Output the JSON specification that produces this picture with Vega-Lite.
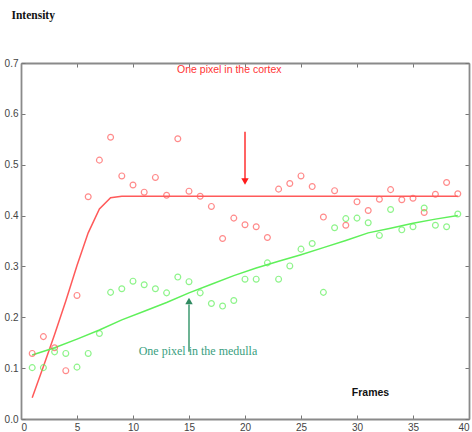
{
  "$schema": "https://vega.github.io/schema/vega-lite/v6.json",
  "width": 448,
  "height": 356,
  "autosize": {"type": "none"},
  "padding": {"left": 21, "top": 63, "right": 3, "bottom": 13},
  "background": "white",
  "config": {
    "view": {"stroke": null},
    "axis": {
      "grid": false,
      "domainColor": "#8a8a8a",
      "domainWidth": 1.8,
      "tickColor": "#777777",
      "tickSize": -4,
      "labelFont": "Liberation Sans",
      "labelFontSize": 10,
      "labelColor": "#444444"
    }
  },
  "datasets": {
    "points": [
      {"frame": 1, "intensity": 0.129, "region": "cortex"},
      {"frame": 2, "intensity": 0.162, "region": "cortex"},
      {"frame": 3, "intensity": 0.140, "region": "cortex"},
      {"frame": 4, "intensity": 0.095, "region": "cortex"},
      {"frame": 5, "intensity": 0.243, "region": "cortex"},
      {"frame": 6, "intensity": 0.437, "region": "cortex"},
      {"frame": 7, "intensity": 0.509, "region": "cortex"},
      {"frame": 8, "intensity": 0.554, "region": "cortex"},
      {"frame": 9, "intensity": 0.478, "region": "cortex"},
      {"frame": 10, "intensity": 0.460, "region": "cortex"},
      {"frame": 11, "intensity": 0.446, "region": "cortex"},
      {"frame": 12, "intensity": 0.475, "region": "cortex"},
      {"frame": 13, "intensity": 0.440, "region": "cortex"},
      {"frame": 14, "intensity": 0.551, "region": "cortex"},
      {"frame": 15, "intensity": 0.448, "region": "cortex"},
      {"frame": 16, "intensity": 0.438, "region": "cortex"},
      {"frame": 17, "intensity": 0.418, "region": "cortex"},
      {"frame": 18, "intensity": 0.355, "region": "cortex"},
      {"frame": 19, "intensity": 0.395, "region": "cortex"},
      {"frame": 20, "intensity": 0.382, "region": "cortex"},
      {"frame": 21, "intensity": 0.378, "region": "cortex"},
      {"frame": 22, "intensity": 0.357, "region": "cortex"},
      {"frame": 23, "intensity": 0.452, "region": "cortex"},
      {"frame": 24, "intensity": 0.463, "region": "cortex"},
      {"frame": 25, "intensity": 0.478, "region": "cortex"},
      {"frame": 26, "intensity": 0.457, "region": "cortex"},
      {"frame": 27, "intensity": 0.397, "region": "cortex"},
      {"frame": 28, "intensity": 0.449, "region": "cortex"},
      {"frame": 29, "intensity": 0.381, "region": "cortex"},
      {"frame": 30, "intensity": 0.427, "region": "cortex"},
      {"frame": 31, "intensity": 0.410, "region": "cortex"},
      {"frame": 32, "intensity": 0.432, "region": "cortex"},
      {"frame": 33, "intensity": 0.451, "region": "cortex"},
      {"frame": 34, "intensity": 0.431, "region": "cortex"},
      {"frame": 35, "intensity": 0.434, "region": "cortex"},
      {"frame": 36, "intensity": 0.406, "region": "cortex"},
      {"frame": 37, "intensity": 0.442, "region": "cortex"},
      {"frame": 38, "intensity": 0.465, "region": "cortex"},
      {"frame": 39, "intensity": 0.443, "region": "cortex"},
      {"frame": 1, "intensity": 0.101, "region": "medulla"},
      {"frame": 2, "intensity": 0.101, "region": "medulla"},
      {"frame": 3, "intensity": 0.132, "region": "medulla"},
      {"frame": 4, "intensity": 0.129, "region": "medulla"},
      {"frame": 5, "intensity": 0.102, "region": "medulla"},
      {"frame": 6, "intensity": 0.129, "region": "medulla"},
      {"frame": 7, "intensity": 0.168, "region": "medulla"},
      {"frame": 8, "intensity": 0.249, "region": "medulla"},
      {"frame": 9, "intensity": 0.256, "region": "medulla"},
      {"frame": 10, "intensity": 0.271, "region": "medulla"},
      {"frame": 11, "intensity": 0.264, "region": "medulla"},
      {"frame": 12, "intensity": 0.256, "region": "medulla"},
      {"frame": 13, "intensity": 0.248, "region": "medulla"},
      {"frame": 14, "intensity": 0.279, "region": "medulla"},
      {"frame": 15, "intensity": 0.270, "region": "medulla"},
      {"frame": 16, "intensity": 0.248, "region": "medulla"},
      {"frame": 17, "intensity": 0.227, "region": "medulla"},
      {"frame": 18, "intensity": 0.222, "region": "medulla"},
      {"frame": 19, "intensity": 0.233, "region": "medulla"},
      {"frame": 20, "intensity": 0.275, "region": "medulla"},
      {"frame": 21, "intensity": 0.275, "region": "medulla"},
      {"frame": 22, "intensity": 0.307, "region": "medulla"},
      {"frame": 23, "intensity": 0.275, "region": "medulla"},
      {"frame": 24, "intensity": 0.301, "region": "medulla"},
      {"frame": 25, "intensity": 0.334, "region": "medulla"},
      {"frame": 26, "intensity": 0.345, "region": "medulla"},
      {"frame": 27, "intensity": 0.249, "region": "medulla"},
      {"frame": 28, "intensity": 0.376, "region": "medulla"},
      {"frame": 29, "intensity": 0.394, "region": "medulla"},
      {"frame": 30, "intensity": 0.395, "region": "medulla"},
      {"frame": 31, "intensity": 0.386, "region": "medulla"},
      {"frame": 32, "intensity": 0.361, "region": "medulla"},
      {"frame": 33, "intensity": 0.412, "region": "medulla"},
      {"frame": 34, "intensity": 0.372, "region": "medulla"},
      {"frame": 35, "intensity": 0.378, "region": "medulla"},
      {"frame": 36, "intensity": 0.415, "region": "medulla"},
      {"frame": 37, "intensity": 0.381, "region": "medulla"},
      {"frame": 38, "intensity": 0.378, "region": "medulla"},
      {"frame": 39, "intensity": 0.403, "region": "medulla"}
    ],
    "fits": [
      {"frame": 1, "intensity": 0.042, "region": "cortex"},
      {"frame": 2, "intensity": 0.103, "region": "cortex"},
      {"frame": 3, "intensity": 0.166, "region": "cortex"},
      {"frame": 4, "intensity": 0.232, "region": "cortex"},
      {"frame": 5, "intensity": 0.302, "region": "cortex"},
      {"frame": 6, "intensity": 0.366, "region": "cortex"},
      {"frame": 7, "intensity": 0.413, "region": "cortex"},
      {"frame": 8, "intensity": 0.435, "region": "cortex"},
      {"frame": 9, "intensity": 0.438, "region": "cortex"},
      {"frame": 20, "intensity": 0.438, "region": "cortex"},
      {"frame": 39, "intensity": 0.438, "region": "cortex"},
      {"frame": 1, "intensity": 0.126, "region": "medulla"},
      {"frame": 3, "intensity": 0.140, "region": "medulla"},
      {"frame": 5, "intensity": 0.157, "region": "medulla"},
      {"frame": 7, "intensity": 0.175, "region": "medulla"},
      {"frame": 9, "intensity": 0.195, "region": "medulla"},
      {"frame": 11, "intensity": 0.212, "region": "medulla"},
      {"frame": 13, "intensity": 0.229, "region": "medulla"},
      {"frame": 15, "intensity": 0.248, "region": "medulla"},
      {"frame": 17, "intensity": 0.265, "region": "medulla"},
      {"frame": 19, "intensity": 0.282, "region": "medulla"},
      {"frame": 21, "intensity": 0.297, "region": "medulla"},
      {"frame": 23, "intensity": 0.310, "region": "medulla"},
      {"frame": 25, "intensity": 0.323, "region": "medulla"},
      {"frame": 27, "intensity": 0.337, "region": "medulla"},
      {"frame": 29, "intensity": 0.351, "region": "medulla"},
      {"frame": 31, "intensity": 0.366, "region": "medulla"},
      {"frame": 33, "intensity": 0.375, "region": "medulla"},
      {"frame": 35, "intensity": 0.385, "region": "medulla"},
      {"frame": 37, "intensity": 0.393, "region": "medulla"},
      {"frame": 39, "intensity": 0.400, "region": "medulla"}
    ]
  },
  "resolve": {"axis": {"x": "independent", "y": "independent"}},
  "layer": [
    {
      "data": {"name": "fits"},
      "mark": {"type": "line", "strokeWidth": 1.5},
      "encoding": {
        "x": {"field": "frame", "type": "quantitative", "scale": {"domain": [0, 40], "nice": false},
              "axis": {"values": [0, 5, 10, 15, 20, 25, 30, 35, 40], "labelPadding": 7, "title": "Frames",
                       "titleX": 349, "titleY": -27, "titleBaseline": "middle", "titleFont": "Liberation Sans",
                       "titleFontSize": 10.5, "titleFontWeight": "bold", "titleColor": "#111111"}},
        "y": {"field": "intensity", "type": "quantitative", "scale": {"domain": [0, 0.7], "nice": false},
              "axis": {"values": [0, 0.1, 0.2, 0.3, 0.4, 0.5, 0.6, 0.7], "labelPadding": 7, "title": "Intensity",
                       "titleAngle": 0, "titleAlign": "left", "titleBaseline": "middle", "titleX": -10, "titleY": -48,
                       "titleFont": "Liberation Serif", "titleFontSize": 11.5, "titleFontWeight": "bold", "titleColor": "#111111"}},
        "color": {"field": "region", "type": "nominal", "scale": {"domain": ["cortex", "medulla"], "range": ["#ff5a5a", "#5ff05a"]}, "legend": null},
        "detail": {"field": "region"}
      }
    },
    {
      "data": {"name": "points"},
      "mark": {"type": "point", "shape": "circle", "filled": false, "size": 34, "strokeWidth": 1.2},
      "encoding": {
        "x": {"field": "frame", "type": "quantitative", "axis": {"orient": "top", "values": [0, 5, 10, 15, 20, 25, 30, 35, 40], "labels": false, "title": null}},
        "y": {"field": "intensity", "type": "quantitative", "axis": {"orient": "right", "values": [0, 0.1, 0.2, 0.3, 0.4, 0.5, 0.6, 0.7], "labels": false, "title": null}},
        "color": {"field": "region", "type": "nominal", "scale": {"domain": ["cortex", "medulla"], "range": ["#ff6a6a", "#66e866"]}, "legend": null}
      }
    },
    {
      "data": {"values": [{"frame": 20, "top": 0.565, "bottom": 0.47}]},
      "mark": {"type": "rule", "color": "#ff3030", "strokeWidth": 1.5},
      "encoding": {
        "x": {"field": "frame", "type": "quantitative", "axis": null},
        "y": {"field": "top", "type": "quantitative", "axis": null},
        "y2": {"field": "bottom"}
      }
    },
    {
      "data": {"values": [{"frame": 20, "intensity": 0.467}]},
      "mark": {"type": "point", "shape": "triangle-down", "filled": true, "size": 55, "color": "#ff1a1a", "opacity": 1},
      "encoding": {
        "x": {"field": "frame", "type": "quantitative", "axis": null},
        "y": {"field": "intensity", "type": "quantitative", "axis": null}
      }
    },
    {
      "data": {"values": [{"frame": 15, "top": 0.225, "bottom": 0.132}]},
      "mark": {"type": "rule", "color": "#3d9a70", "strokeWidth": 1.5},
      "encoding": {
        "x": {"field": "frame", "type": "quantitative", "axis": null},
        "y": {"field": "top", "type": "quantitative", "axis": null},
        "y2": {"field": "bottom"}
      }
    },
    {
      "data": {"values": [{"frame": 15, "intensity": 0.232}]},
      "mark": {"type": "point", "shape": "triangle-up", "filled": true, "size": 55, "color": "#2f8a60", "opacity": 1},
      "encoding": {
        "x": {"field": "frame", "type": "quantitative", "axis": null},
        "y": {"field": "intensity", "type": "quantitative", "axis": null}
      }
    },
    {
      "data": {"values": [{"frame": 18.6, "intensity": 0.686, "label": "One pixel in the cortex"}]},
      "mark": {"type": "text", "font": "Liberation Sans", "fontSize": 10.5, "color": "#ff3333", "align": "center", "baseline": "middle"},
      "encoding": {
        "x": {"field": "frame", "type": "quantitative", "axis": null},
        "y": {"field": "intensity", "type": "quantitative", "axis": null},
        "text": {"field": "label"}
      }
    },
    {
      "data": {"values": [{"frame": 15.8, "intensity": 0.134, "label": "One pixel in the medulla"}]},
      "mark": {"type": "text", "font": "Liberation Serif", "fontSize": 12, "color": "#3aa080", "align": "center", "baseline": "middle"},
      "encoding": {
        "x": {"field": "frame", "type": "quantitative", "axis": null},
        "y": {"field": "intensity", "type": "quantitative", "axis": null},
        "text": {"field": "label"}
      }
    }
  ]
}
